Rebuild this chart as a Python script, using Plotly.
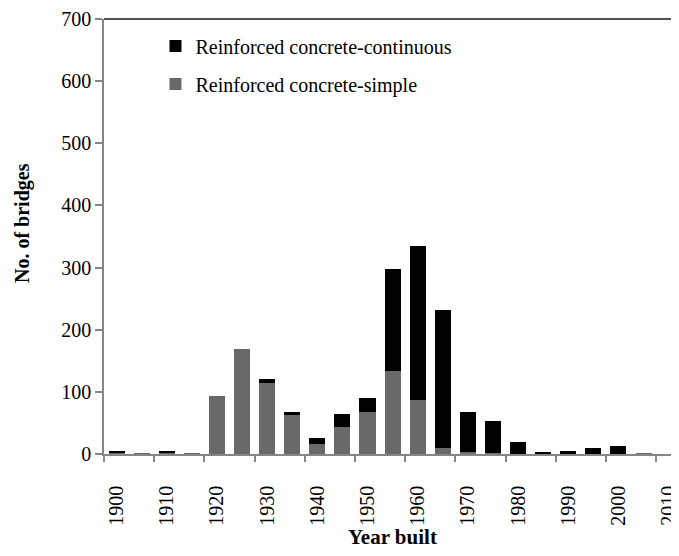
import plotly.graph_objects as go

years = list(range(1900, 2011, 5))
simple = [3, 1, 2, 1, 94, 169, 114, 63, 16, 44, 68, 133, 87, 9, 4, 1, 0, 0, 0, 0, 0, 1, 0]
continuous = [2, 0, 2, 0, 0, 0, 7, 5, 9, 20, 22, 165, 247, 222, 64, 52, 19, 3, 5, 10, 13, 0, 0]
tick_years = list(range(1900, 2011, 10))
y_ticks = list(range(0, 701, 100))

FONT = "Liberation Serif"
AXIS_GRAY = "#868686"

fig = go.Figure()
fig.add_trace(go.Bar(x=years, y=simple, name="Reinforced concrete-simple",
                     legendgroup="simple", legendrank=2,
                     marker=dict(color="#696969", line=dict(width=0)), width=3.2))
fig.add_trace(go.Bar(x=years, y=continuous, name="Reinforced concrete-continuous",
                     legendgroup="continuous", legendrank=1,
                     marker=dict(color="#000000", line=dict(width=0)), width=3.2))

# page body has an 8px margin, so the figure is 8px smaller and offset
fig.update_layout(
    width=671, height=548,
    margin=dict(l=96, r=0, t=8, b=102),
    barmode="stack",
    plot_bgcolor="white", paper_bgcolor="white",
    font=dict(family=FONT, size=20, color="black"),
    showlegend=True,
    legend=dict(x=0.09, y=0.983, xanchor="left", yanchor="top",
                traceorder="grouped", tracegroupgap=9,
                font=dict(family=FONT, size=20, color="black"),
                bgcolor="rgba(0,0,0,0)", itemwidth=30),
    xaxis=dict(range=[1897.5, 2011.47], tickmode="array", tickvals=tick_years,
               ticktext=[str(t) for t in tick_years], tickangle=-90, ticks="",
               showline=True, linecolor=AXIS_GRAY, linewidth=1.5, showgrid=False,
               zeroline=False, ticklabelstandoff=22, ticklabeloverflow="allow",
               minor=dict(tick0=1897.5, dtick=10, ticks="outside", ticklen=6,
                          tickcolor=AXIS_GRAY, tickwidth=1.5, showgrid=False),
               tickfont=dict(family=FONT, size=20)),
    yaxis=dict(range=[0, 700], tickmode="array", tickvals=y_ticks,
               ticks="outside", ticklen=7, tickcolor=AXIS_GRAY, tickwidth=1.5,
               showline=True, linecolor=AXIS_GRAY, linewidth=1.5, showgrid=False,
               zeroline=False, ticklabeloverflow="allow",
               tickfont=dict(family=FONT, size=20)),
    shapes=[dict(type="line", xref="paper", yref="paper", x0=0, x1=1, y0=1, y1=1,
                 line=dict(color="#1a1a1a", width=1.5))],
    annotations=[
        dict(text="<b>No. of bridges</b>", xref="paper", yref="paper",
             x=(22 - 104) / 575, y=1 - (221 - 16) / 438, textangle=-90,
             showarrow=False, xanchor="center", yanchor="middle",
             font=dict(family=FONT, size=20, color="black")),
        dict(text="<b>Year built</b>", xref="paper", yref="paper",
             x=(394 - 104) / 575, y=-(538 - 454) / 438,
             showarrow=False, xanchor="center", yanchor="middle",
             font=dict(family=FONT, size=21, color="black")),
    ],
)

fig.write_html("out.html")
